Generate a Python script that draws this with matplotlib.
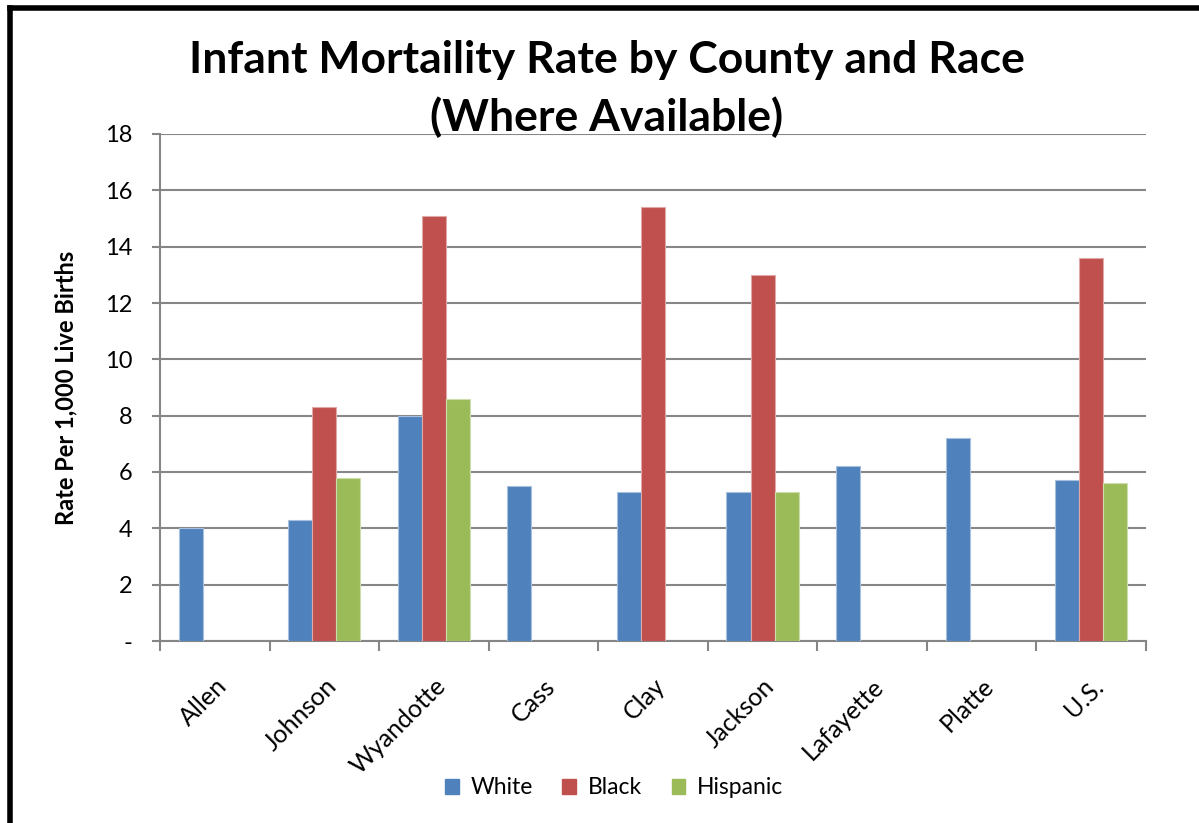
import matplotlib
matplotlib.use("Agg")
import matplotlib.pyplot as plt
from matplotlib.lines import Line2D
import numpy as np

counties = ["Allen", "Johnson", "Wyandotte", "Cass", "Clay", "Jackson", "Lafayette", "Platte", "U.S."]
white = [4.0, 4.3, 8.0, 5.5, 5.3, 5.3, 6.2, 7.2, 5.7]
black = [np.nan, 8.3, 15.1, np.nan, 15.4, 13.0, np.nan, np.nan, 13.6]
hispanic = [np.nan, 5.8, 8.6, np.nan, np.nan, 5.3, np.nan, np.nan, 5.6]
series_names = ["White", "Black", "Hispanic"]
yticks = [0, 2, 4, 6, 8, 10, 12, 14, 16, 18]
ytick_labels = ["-", "2", "4", "6", "8", "10", "12", "14", "16", "18"]

colors = ["#4F81BD", "#C0504D", "#9BBB59"]
edge = ["#A7C0DE", "#E0A8A6", "#CDDDAC"]

plt.rcParams['font.family'] = ['Lato', 'DejaVu Sans']

fig = plt.figure(figsize=(11.99, 8.23), dpi=100)
ax = fig.add_axes([160/1199, 1-641/823, 986/1199, 507/823])

x = np.arange(len(counties))
w = 0.22
for i, (vals, name) in enumerate(zip([white, black, hispanic], series_names)):
    ax.bar(x + (i-1)*w, vals, width=w, color=colors[i], edgecolor=edge[i], linewidth=0.8, label=name, zorder=3)

ax.set_xlim(-0.5, len(counties)-0.5)
ax.set_ylim(0, 18)
ax.set_yticks(yticks)
ax.set_yticklabels(ytick_labels, fontsize=17)
ax.yaxis.grid(True, color="#868686", linewidth=1.5, zorder=0)
ax.set_axisbelow(True)

ax.set_xticks(np.arange(-0.5, len(counties), 1.0))
ax.set_xticklabels([])
ax.set_xticks(x, minor=True)
ax.set_xticklabels(counties, minor=True, fontsize=18, rotation=45, ha='right', rotation_mode='anchor')
ax.tick_params(axis='x', which='minor', length=0, pad=24)
ax.tick_params(axis='x', which='major', length=7, width=1.5, color="#868686", direction='out')
ax.tick_params(axis='y', length=6, width=1.5, color="#868686", pad=14)

for s in ["top", "right"]:
    ax.spines[s].set_visible(False)
for s in ["left", "bottom"]:
    ax.spines[s].set_color("#868686")
    ax.spines[s].set_linewidth(1.5)

ax.set_ylabel("Rate Per 1,000 Live Births", fontsize=17, fontweight='bold', labelpad=20)

fig.text(607/1199, 1-60/823, "Infant Mortaility Rate by County and Race", ha='center', va='center',
         fontsize=32, fontweight='bold')
fig.text(607/1199, 1-117/823, "(Where Available)", ha='center', va='center',
         fontsize=32, fontweight='bold')

handles = [plt.Rectangle((0, 0), 1, 1, color=c) for c in colors]
fig.legend(handles, series_names, loc='center', bbox_to_anchor=(614/1199, 1-788/823), ncol=3,
           frameon=False, fontsize=16.5, handlelength=0.6, handleheight=0.6, handletextpad=0.5, columnspacing=1.3)

# outer frame (left and top edges)
fig.add_artist(Line2D([10/1199, 10/1199], [0, 1-8/823], transform=fig.transFigure, color='black', linewidth=4))
fig.add_artist(Line2D([10/1199, 1], [1-8/823, 1-8/823], transform=fig.transFigure, color='black', linewidth=4))

fig.savefig("out.png", dpi=100)
